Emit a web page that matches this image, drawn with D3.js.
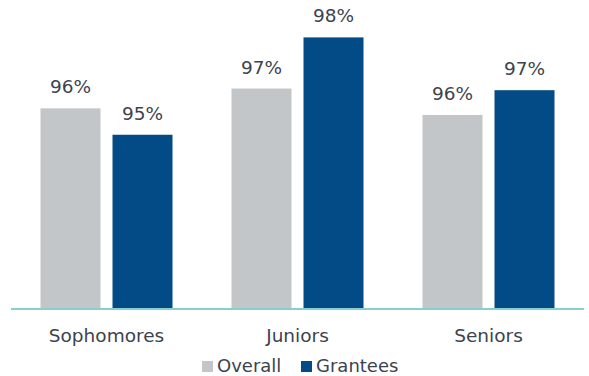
<!DOCTYPE html>
<html lang="en">
<head>
	<meta charset="UTF-8">
	<title>Grade level rates</title>
	<script src="https://d3js.org/d3.v7.min.js"></script>
	<style>
		body {
			margin: 0;
			background-color: #ffffff;
		}
		text {
			font-family: "DejaVu Sans", Verdana, sans-serif;
			fill: #3c434d;
		}
		.axis-line {
			stroke: #86d0d0;
			stroke-width: 2;
		}
	</style>
</head>
<body>
<script type="text/javascript">
	// data
	var categories = ['Sophomores', 'Juniors', 'Seniors'];
	var series = ['Overall', 'Grantees'];
	var overall = [96.05, 96.65, 95.85];
	var grantees = [95.25, 98.2, 96.6];
	var colors = ['#c3c6c9', '#024b86'];

	var width = 589, height = 376;
	var baseline = 308;

	var svg = d3.select('body').append('svg')
		.attr('width', width)
		.attr('height', height);

	var rows = categories.map(function (c, i) {
		return {cat: c, values: [overall[i], grantees[i]]};
	});

	//----scales----//
	var x0 = d3.scaleBand()
		.domain(categories)
		.range([11, 584])
		.padding(0);

	var x1 = d3.scaleBand()
		.domain(series)
		.range([0, 132])
		.paddingInner(12 / 72)
		.paddingOuter(0);

	var y = d3.scaleLinear()
		.domain([90, 100])
		.range([baseline, baseline - 330]);

	var groupOffset = (x0.bandwidth() - 132) / 2;

	// bars
	var groups = svg.selectAll('.group')
		.data(rows)
		.enter().append('g')
		.attr('class', 'group')
		.attr('transform', function (d) {
			return 'translate(' + (x0(d.cat) + groupOffset) + ',0)';
		});

	groups.selectAll('rect')
		.data(function (d) {
			return d.values.map(function (v, i) { return {s: series[i], v: v, i: i}; });
		})
		.enter().append('rect')
		.attr('x', function (d) { return x1(d.s); })
		.attr('y', function (d) { return y(d.v); })
		.attr('width', x1.bandwidth())
		.attr('height', function (d) { return baseline - y(d.v); })
		.attr('fill', function (d) { return colors[d.i]; });

	groups.selectAll('.lbl')
		.data(function (d) {
			return d.values.map(function (v, i) { return {s: series[i], v: v}; });
		})
		.enter().append('text')
		.attr('class', 'lbl')
		.attr('x', function (d) { return x1(d.s) + x1.bandwidth() / 2; })
		.attr('y', function (d) { return y(d.v) - 15; })
		.attr('text-anchor', 'middle')
		.style('font-size', '18.5px')
		.text(function (d) { return Math.round(d.v) + '%'; });

	// axis
	svg.append('line')
		.attr('class', 'axis-line')
		.attr('x1', 11).attr('x2', 584)
		.attr('y1', baseline + 1).attr('y2', baseline + 1);

	svg.selectAll('.cat')
		.data(categories)
		.enter().append('text')
		.attr('class', 'cat')
		.attr('x', function (d) { return x0(d) + x0.bandwidth() / 2; })
		.attr('y', 341.5)
		.attr('text-anchor', 'middle')
		.style('font-size', '18.5px')
		.text(function (d) { return d; });

	// legend
	var legendX = [202, 301];
	var legend = svg.selectAll('.legend')
		.data(series)
		.enter().append('g')
		.attr('class', 'legend')
		.attr('transform', function (d, i) { return 'translate(' + legendX[i] + ',361)'; });

	legend.append('rect')
		.attr('width', 11)
		.attr('height', 11)
		.attr('fill', function (d, i) { return colors[i]; });

	legend.append('text')
		.attr('x', 15)
		.attr('y', 11)
		.style('font-size', '18px')
		.text(function (d) { return d; });
</script>
</body>
</html>
